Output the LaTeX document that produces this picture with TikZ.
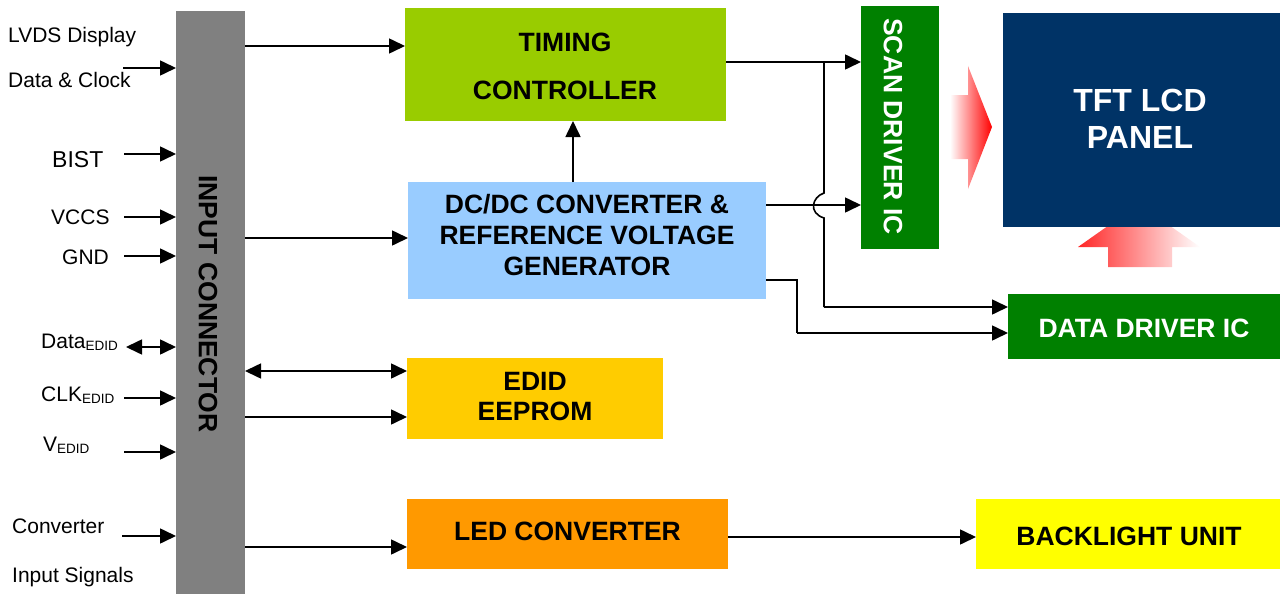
\documentclass[tikz,border=0pt]{standalone}
\usepackage{fontspec}
\setmainfont{Liberation Sans}
\usetikzlibrary{arrows.meta}
\definecolor{conngray}{HTML}{808080}
\definecolor{tcgreen}{HTML}{99CC00}
\definecolor{dcblue}{HTML}{99CCFF}
\definecolor{edidyel}{HTML}{FFCC00}
\definecolor{ledorange}{HTML}{FF9900}
\definecolor{drvgreen}{HTML}{008000}
\definecolor{panelblue}{HTML}{003366}
\definecolor{blyellow}{HTML}{FFFF00}
\newcommand{\sbs}[1]{\raisebox{-2pt}{\fontsize{13.5}{13.5}\selectfont #1}}
\begin{document}
\begin{tikzpicture}[x=1pt,y=-1pt,
  blk/.style={draw=none, inner sep=0pt, outer sep=0pt, anchor=north west},
  btxt/.style={inner sep=0pt, align=center, font=\fontsize{26.5}{31}\selectfont\bfseries},
  lbl/.style={inner sep=0pt, anchor=base west, font=\fontsize{21}{25}\selectfont},
  ln/.style={line width=1.6pt},
  arr/.style={line width=1.6pt, -{Triangle[length=16pt,width=15pt]}},
  darr/.style={line width=1.6pt, {Triangle[length=16pt,width=15pt]}-{Triangle[length=16pt,width=15pt]}}
]
\useasboundingbox (0,0) rectangle (1280,594);
\fill[white] (0,0) rectangle (1280,594);

% blocks
\node[blk, fill=conngray, minimum width=69pt, minimum height=583pt] (ic) at (176,11) {};
\node[blk, fill=tcgreen, minimum width=321pt, minimum height=113pt] (tc) at (405,8) {};
\node[blk, fill=dcblue, minimum width=358pt, minimum height=117pt] (dc) at (408,182) {};
\node[blk, fill=edidyel, minimum width=256pt, minimum height=81pt] (ee) at (407,358) {};
\node[blk, fill=ledorange, minimum width=321pt, minimum height=70pt] (led) at (407,499) {};
\node[blk, fill=drvgreen, minimum width=78pt, minimum height=243pt] (sd) at (861,6) {};
\node[blk, fill=drvgreen, minimum width=272pt, minimum height=65pt] (dd) at (1008,294) {};
\node[blk, fill=blyellow, minimum width=304pt, minimum height=70pt] (bl) at (976,499) {};

% gradient arrows
\shade[left color=white, right color=red] (950,95) -- (968,95) -- (968,66) -- (992,127) -- (968,189) -- (968,159) -- (950,159) -- cycle;
\shade[left color=red!85, right color=white] (1108,267) -- (1108,247) -- (1078,247) -- (1139,204) -- (1200,247) -- (1172,247) -- (1172,267) -- cycle;
\node[blk, fill=panelblue, minimum width=277pt, minimum height=214pt] (tft) at (1003,13) {};

% block texts
\node[btxt, rotate=-90] (ictext) at (208,304) {INPUT CONNECTOR};
\node[btxt, font=\fontsize{26.5}{48}\selectfont\bfseries] (tctext) at (565,66.5) {TIMING\\CONTROLLER};
\node[btxt] (dctext) at (587,235.5) {DC/DC CONVERTER \&\\REFERENCE VOLTAGE\\GENERATOR};
\node[btxt, font=\fontsize{26.5}{30}\selectfont\bfseries] (eetext) at (535,396.5) {EDID\\EEPROM};
\node[btxt] (ledtext) at (567.5,531.5) {LED CONVERTER};
\node[btxt, text=white, rotate=-90] (sdtext) at (893,126.5) {SCAN DRIVER IC};
\node[btxt, text=white] (ddtext) at (1144,328) {DATA DRIVER IC};
\node[btxt] (bltext) at (1129,536) {BACKLIGHT UNIT};
\node[btxt, text=white, font=\fontsize{32}{37}\selectfont\bfseries] (tfttext) at (1140,119) {TFT LCD\\PANEL};

% left labels
\node[lbl] (lvdsa) at (8,43) {LVDS Display};
\node[lbl] (lvdsb) at (8,88) {Data \& Clock};
\node[lbl, font=\fontsize{23}{27}\selectfont] (bist) at (52,167) {BIST};
\node[lbl] (vccs) at (51,224) {VCCS};
\node[lbl] (gnd) at (62,264) {GND};
\node[lbl] (dataedid) at (41,348) {Data\sbs{EDID}};
\node[lbl] (clkedid) at (41,401) {CLK\sbs{EDID}};
\node[lbl] (vedid) at (43,451) {V\sbs{EDID}};
\node[lbl] (conva) at (12,533) {Converter};
\node[lbl] (convb) at (12,582) {Input Signals};

% start points of input arrows
\coordinate (sLvds) at (123,68);
\coordinate (sBist) at (124,154);
\coordinate (sVccs) at (124,217);
\coordinate (sGnd) at (124,256);
\coordinate (sData) at (126,347);
\coordinate (sClk) at (124,398);
\coordinate (sV) at (124,452);
\coordinate (sConv) at (122,536);
\draw[arr] (sLvds) -- (sLvds -| ic.west);
\draw[arr] (sBist) -- (sBist -| ic.west);
\draw[arr] (sVccs) -- (sVccs -| ic.west);
\draw[arr] (sGnd) -- (sGnd -| ic.west);
\draw[darr] (sData) -- (sData -| ic.west);
\draw[arr] (sClk) -- (sClk -| ic.west);
\draw[arr] (sV) -- (sV -| ic.west);
\draw[arr] (sConv) -- (sConv -| ic.west);

% level coordinates
\coordinate (y46) at (0,46);
\coordinate (y238) at (0,238);
\coordinate (y371) at (0,371);
\coordinate (y417) at (0,417);
\coordinate (y547) at (0,547);
\coordinate (y62) at (0,62);
\coordinate (y205) at (0,205);
\coordinate (y280) at (0,280);
\coordinate (y537) at (0,537);
\coordinate (x573) at (573,0);

\draw[arr] (ic.east |- y46) -- (tc.west |- y46);
\draw[arr] (ic.east |- y238) -- (dc.west |- y238);
\draw[darr] (ic.east |- y371) -- (ee.west |- y371);
\draw[arr] (ic.east |- y417) -- (ee.west |- y417);
\draw[arr] (ic.east |- y547) -- (led.west |- y547);
\draw[arr] (dc.north -| x573) -- (tc.south -| x573);
\draw[arr] (tc.east |- y62) -- (sd.west |- y62);
\draw[arr] (dc.east |- y205) -- (sd.west |- y205);
\draw[arr] (led.east |- y537) -- (bl.west |- y537);

% branch from timing controller to data driver with hop
\coordinate (br) at (824,62);
\coordinate (hopa) at (824,193);
\coordinate (hopb) at (824,218);
\coordinate (brdown) at (824,307);
\draw[ln] (br) -- (hopa) .. controls (812,197) and (808,213) .. (hopb) -- (brdown);
\draw[arr] (brdown) -- (dd.west |- brdown);
% DC/DC to data driver
\coordinate (dcout) at (dc.east |- y280);
\coordinate (dcknee) at (797,280);
\coordinate (dcdown) at (797,333);
\draw[ln] (dcout) -- (dcknee) -- (dcdown);
\draw[arr] (dcdown) -- (dd.west |- dcdown);
\end{tikzpicture}
\end{document}
